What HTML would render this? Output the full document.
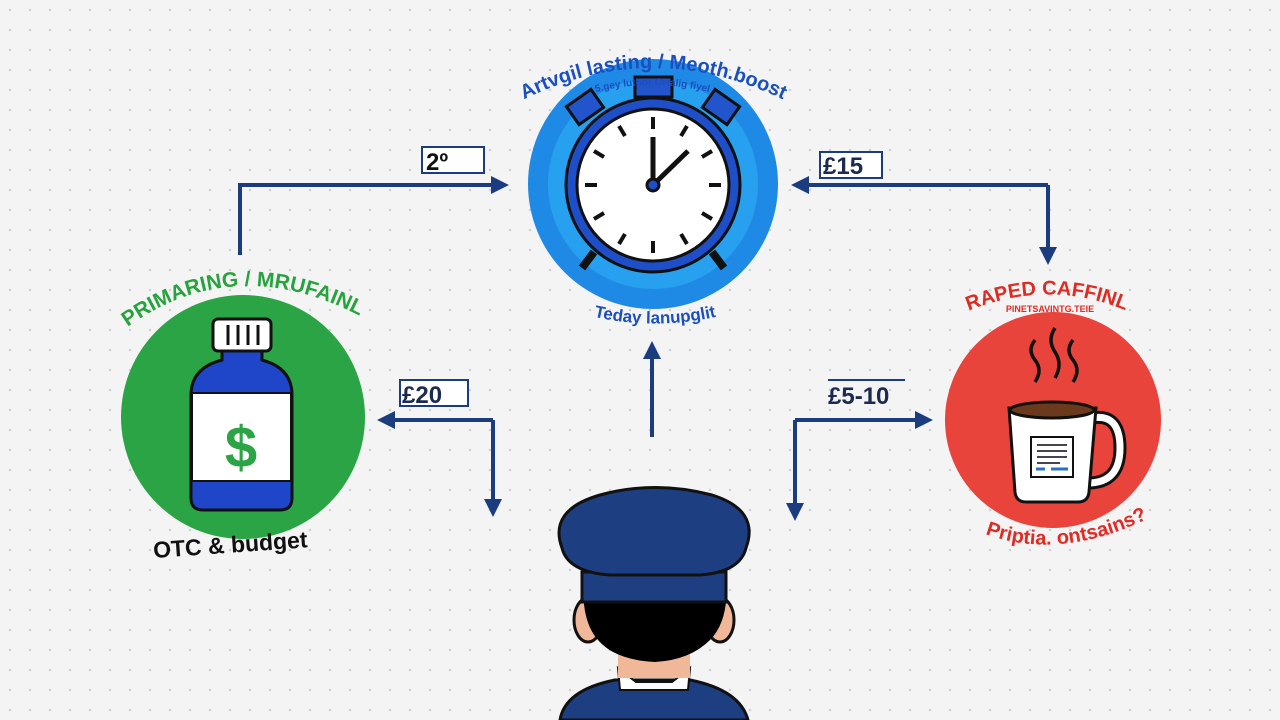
<!DOCTYPE html>
<html><head><meta charset="utf-8"><style>
html,body{margin:0;padding:0;background:#f3f3f3}
svg{display:block}
text{font-family:"Liberation Sans",sans-serif;font-weight:bold}
</style></head><body>
<svg width="1280" height="720" viewBox="0 0 1280 720" xmlns="http://www.w3.org/2000/svg">
<defs>
<pattern id="dots" width="20" height="20" patternUnits="userSpaceOnUse">
<circle cx="10" cy="10" r="1.3" fill="#cfd2d6"/>
</pattern>
<marker id="ah" viewBox="0 0 10 10" refX="5" refY="5" markerWidth="4.5" markerHeight="4.5" orient="auto-start-reverse">
<path d="M0,0 L10,5 L0,10 z" fill="#1c3c80"/>
</marker>
<path id="arcTop" d="M515,104 Q652,32 792,104"/>
<path id="arcTop2" d="M560,104 Q652,66 745,104"/>
<path id="arcG" d="M105,345 Q230,235 385,330"/>
<path id="arcR" d="M952,318 Q1050,271 1142,318"/>
<path id="arcBot" d="M575,312 Q655,335 735,312"/>
<path id="arcRB" d="M988,535 Q1060,560 1145,520"/>
</defs>
<rect width="1280" height="720" fill="#f4f4f4"/>
<rect width="1280" height="720" fill="url(#dots)"/>

<g stroke="#1c3c80" stroke-width="4" fill="none">
<path d="M240,255 V185 H500" marker-end="url(#ah)"/>
<path d="M1048,185 H800" marker-end="url(#ah)"/>
<path d="M1048,185 V256" marker-end="url(#ah)"/>
<path d="M652,437 V350" marker-end="url(#ah)"/>
<path d="M493,420 H386" marker-end="url(#ah)"/>
<path d="M493,420 V508" marker-end="url(#ah)"/>
<path d="M795,420 H924" marker-end="url(#ah)"/>
<path d="M795,420 V512" marker-end="url(#ah)"/>
</g>
<rect x="422" y="147" width="62" height="26" fill="#fff" stroke="#1c3c80" stroke-width="2"/>
<text x="426" y="170" font-size="24" fill="#111">2º</text>
<rect x="820" y="152" width="62" height="26" fill="#fff" stroke="#1c3c80" stroke-width="2"/>
<text x="823" y="174" font-size="24" fill="#1a2a50">£15</text>
<rect x="400" y="380" width="68" height="26" fill="#fff" stroke="#1c3c80" stroke-width="2"/>
<text x="402" y="403" font-size="24" fill="#1a2a50">£20</text>
<line x1="828" y1="380" x2="905" y2="380" stroke="#1c3c80" stroke-width="2"/>
<text x="828" y="404" font-size="24" fill="#1a2a50">£5-10</text>

<circle cx="653" cy="184" r="125" fill="#1f8ae6"/>
<circle cx="653" cy="184" r="105" fill="#26a0ef"/>
<g stroke="#111" stroke-width="3">
<rect x="635" y="77" width="37" height="20" fill="#2255cc"/>
<rect x="570" y="96" width="30" height="22" fill="#2255cc" transform="rotate(-35 585 107)"/>
<rect x="706" y="96" width="30" height="22" fill="#2255cc" transform="rotate(35 721 107)"/>
<line x1="594" y1="252" x2="582" y2="268" stroke-width="8"/>
<line x1="712" y1="252" x2="724" y2="268" stroke-width="8"/>
</g>
<circle cx="653" cy="185" r="87" fill="#1e4ec8" stroke="#111" stroke-width="3"/>
<circle cx="653" cy="185" r="76" fill="#fff" stroke="#111" stroke-width="3"/>
<g stroke="#111" stroke-width="4">
<line x1="653" y1="117" x2="653" y2="129"/><line x1="653" y1="241" x2="653" y2="253"/>
<line x1="585" y1="185" x2="597" y2="185"/><line x1="709" y1="185" x2="721" y2="185"/>
<line x1="687" y1="126" x2="681" y2="136"/><line x1="619" y1="126" x2="625" y2="136"/>
<line x1="687" y1="244" x2="681" y2="234"/><line x1="619" y1="244" x2="625" y2="234"/>
<line x1="712" y1="151" x2="702" y2="157"/><line x1="594" y1="151" x2="604" y2="157"/>
<line x1="712" y1="219" x2="702" y2="213"/><line x1="594" y1="219" x2="604" y2="213"/>
<line x1="653" y1="185" x2="653" y2="137" stroke-width="5"/>
<line x1="653" y1="185" x2="688" y2="151" stroke-width="5"/>
</g>
<circle cx="653" cy="185" r="6" fill="#1e4ec8" stroke="#111" stroke-width="3"/>
<text font-size="20" fill="#1a4fc0"><textPath href="#arcTop" startOffset="50%" text-anchor="middle">Artvgil lasting / Meoth.boost</textPath></text>
<text font-size="10" fill="#1a4fc0" font-weight="normal"><textPath href="#arcTop2" startOffset="50%" text-anchor="middle">5.gey luthor Ortalig fiyel</textPath></text>
<text font-size="17" fill="#1a4fc0"><textPath href="#arcBot" startOffset="50%" text-anchor="middle">Teday lanupglit</textPath></text>

<circle cx="243" cy="417" r="122" fill="#2aa444"/>
<text font-size="21" fill="#27a33e"><textPath href="#arcG" startOffset="50%" text-anchor="middle">PRIMARING / MRUFAINL</textPath></text>
<rect x="213" y="319" width="58" height="32" rx="5" fill="#fff" stroke="#111" stroke-width="3"/>
<g stroke="#111" stroke-width="3"><line x1="228" y1="325" x2="228" y2="345"/><line x1="238" y1="325" x2="238" y2="345"/><line x1="248" y1="325" x2="248" y2="345"/><line x1="258" y1="325" x2="258" y2="345"/></g>
<path d="M222,351 H262 V360 Q292,368 292,395 V498 Q292,510 280,510 H203 Q191,510 191,498 V395 Q191,368 222,360 Z" fill="#1f45c8" stroke="#111" stroke-width="3"/>
<rect x="192" y="393" width="99" height="88" fill="#fff" stroke="#111" stroke-width="2"/>
<text x="241" y="467" font-size="58" fill="#2aa444" text-anchor="middle">$</text>
<text x="153" y="552" font-size="23" fill="#111" transform="rotate(-4 240 545)">OTC &amp; budget</text>

<circle cx="1053" cy="420" r="108" fill="#e8443c"/>
<text font-size="20" fill="#e02a22"><textPath href="#arcR" startOffset="50%" text-anchor="middle">RAPED CAFFINL</textPath></text>
<text x="1050" y="312" font-size="9" fill="#e02a22" text-anchor="middle">PINETSAVINTG.TEIE</text>
<g stroke="#111" stroke-width="3.5" fill="none">
<path d="M1035,340 q-8,10 0,20 q8,10 0,22"/>
<path d="M1055,328 q-8,12 0,24 q8,12 0,26"/>
<path d="M1073,340 q-8,10 0,20 q8,10 0,22"/>
<path d="M1092,418 q28,-5 28,30 q0,35 -32,35" stroke-width="13"/>
</g>
<path d="M1092,418 q28,-5 28,30 q0,35 -32,35" stroke="#fff" stroke-width="7" fill="none"/>
<path d="M1009,408 H1096 L1089,492 Q1088,502 1078,502 H1026 Q1016,502 1015,492 Z" fill="#fff" stroke="#111" stroke-width="3"/>
<ellipse cx="1052" cy="410" rx="42" ry="8" fill="#6b3a1c" stroke="#111" stroke-width="3"/>
<rect x="1031" y="437" width="42" height="40" fill="#fff" stroke="#111" stroke-width="2"/>
<g stroke="#445" stroke-width="2"><line x1="1037" y1="445" x2="1067" y2="445"/><line x1="1037" y1="451" x2="1067" y2="451"/><line x1="1037" y1="457" x2="1067" y2="457"/><line x1="1037" y1="463" x2="1060" y2="463"/></g>
<g stroke="#2a70c0" stroke-width="3"><line x1="1036" y1="469" x2="1045" y2="469"/><line x1="1051" y1="469" x2="1068" y2="469"/></g>
<text font-size="20" fill="#e02a22"><textPath href="#arcRB" startOffset="50%" text-anchor="middle">Priptia. ontsains?</textPath></text>

<path d="M560,720 Q565,690 615,680 H690 Q740,690 748,720 Z" fill="#1d3f82" stroke="#111" stroke-width="3"/>
<path d="M618,668 L636,682 H672 L690,668 L688,690 H620 Z" fill="#fff" stroke="#111" stroke-width="2"/>
<rect x="618" y="640" width="72" height="38" fill="#f0b898"/>
<ellipse cx="588" cy="620" rx="14" ry="22" fill="#f0b898" stroke="#111" stroke-width="3"/>
<ellipse cx="720" cy="620" rx="14" ry="22" fill="#f0b898" stroke="#111" stroke-width="3"/>
<path d="M584,575 H726 Q730,620 710,640 Q690,660 655,662 Q615,660 598,640 Q580,620 584,575 Z" fill="#000"/>
<rect x="582" y="572" width="144" height="30" fill="#1d3f82" stroke="#111" stroke-width="3"/>
<path d="M562,548 Q548,510 600,495 Q655,480 712,495 Q760,510 746,548 Q740,572 700,575 H610 Q568,572 562,548 Z" fill="#1d3f82" stroke="#111" stroke-width="3"/>
</svg>
</body></html>
